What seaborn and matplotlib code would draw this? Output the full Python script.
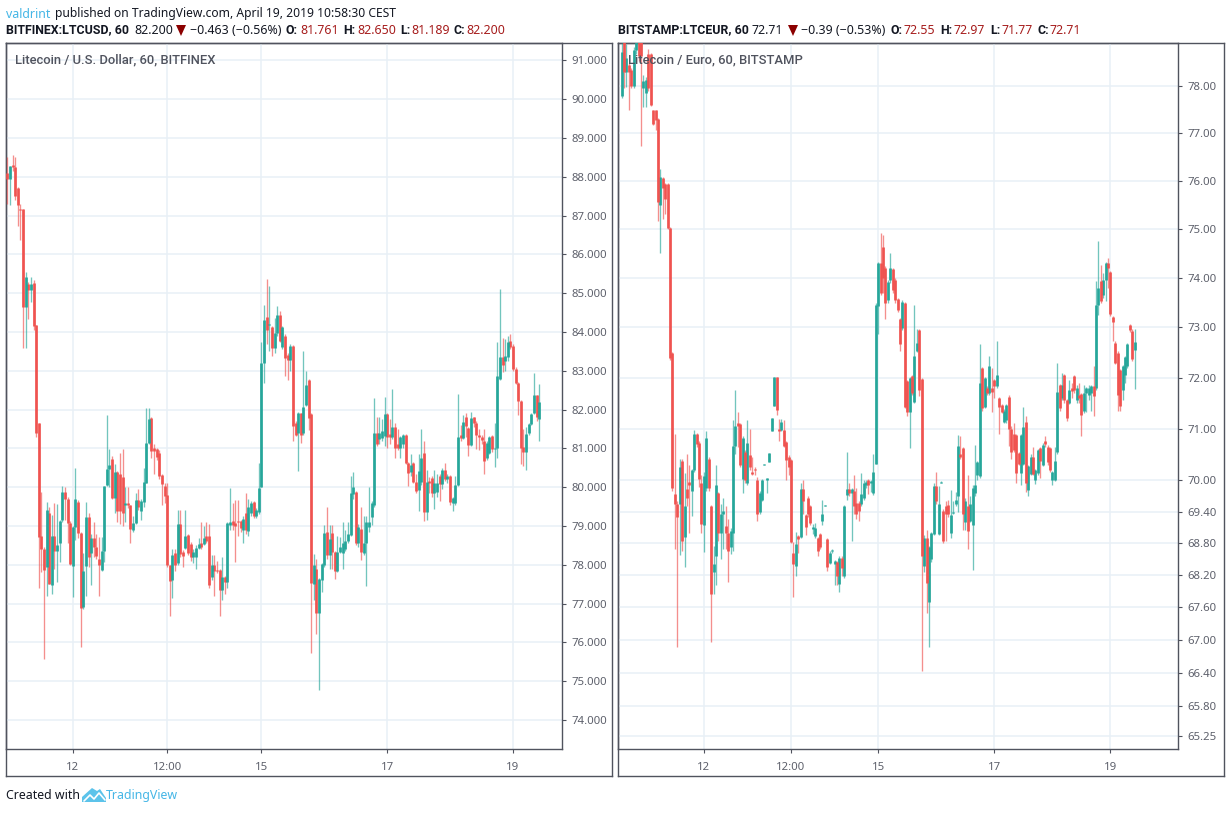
import numpy as np
import pandas as pd
import seaborn as sns
import matplotlib.pyplot as plt
from matplotlib.patches import Polygon
from matplotlib.ticker import NullLocator

# hourly candles
usd_open = [88.10,87.95,88.30,88.25,87.70,87.17,87.17,84.65,85.25,85.08,
85.26,84.18,81.65,78.74,78.40,77.95,79.33,77.48,78.74,78.36,
78.56,79.15,79.88,79.70,79.08,77.97,78.97,79.62,78.82,76.91,
77.97,79.23,78.30,78.69,78.46,78.14,77.87,78.36,80.06,80.47,
80.73,79.72,80.39,80.34,80.26,79.55,79.58,79.54,78.90,79.08,
79.67,79.38,79.62,80.10,81.14,81.78,81.00,80.98,80.88,80.31,
80.03,79.80,77.99,77.60,78.30,78.04,79.05,78.33,78.43,78.77,
78.54,78.20,78.20,78.43,78.56,78.54,78.74,78.74,77.69,77.99,
77.87,77.87,77.35,77.69,77.56,79.03,79.13,79.08,79.13,79.13,
78.90,79.33,78.87,79.33,79.62,79.26,79.36,80.00,83.20,84.39,
84.17,84.13,83.59,83.97,84.44,83.61,83.90,83.41,83.28,83.64,
81.65,81.39,81.90,81.39,82.12,82.76,81.88,77.50,77.89,76.76,
77.60,77.99,78.85,78.25,78.82,78.33,77.84,78.33,78.30,78.40,
78.60,78.77,79.82,79.88,78.56,78.92,78.30,78.56,78.98,79.23,
79.54,81.39,81.25,81.28,81.32,81.88,81.38,81.30,81.55,81.10,
81.00,81.10,81.35,80.62,80.40,80.62,80.13,79.93,80.13,80.88,
79.36,80.17,80.24,79.85,79.87,80.29,80.08,80.44,80.20,80.29,
79.60,79.60,80.06,81.35,81.27,81.80,81.53,81.09,81.80,81.65,
81.35,81.30,81.20,80.75,80.88,81.32,80.98,81.00,82.80,83.36,
83.25,83.35,83.77,83.64,83.05,82.69,82.22,81.03,80.90,81.39,
81.63,81.90,82.37,81.76]
usd_close = [87.95,88.28,88.25,87.50,87.28,87.15,84.65,85.42,85.08,85.25,
84.15,81.40,78.72,78.40,77.87,79.41,77.50,78.74,78.36,78.51,
79.13,79.88,79.70,79.08,78.02,78.97,79.70,78.82,76.88,77.84,
79.23,78.20,78.69,78.46,78.22,78.00,78.36,80.03,80.47,80.57,
79.72,80.39,79.38,79.38,79.33,79.60,79.54,78.92,79.08,79.67,
79.49,79.64,80.13,81.14,81.76,80.93,80.93,80.78,80.29,80.08,
79.77,77.99,77.58,78.25,78.00,79.05,78.28,78.22,78.74,78.30,
78.20,78.33,78.43,78.54,78.46,78.69,78.61,77.48,77.99,77.85,
77.84,77.35,77.69,77.56,79.08,79.10,79.03,79.00,79.10,78.95,
79.18,78.90,79.49,79.60,79.26,79.40,79.98,83.20,84.31,84.05,
84.20,83.59,83.97,84.44,83.77,84.13,83.33,83.28,83.64,81.58,
81.35,81.90,81.35,82.07,82.63,81.78,77.53,77.99,76.76,77.63,
78.02,78.82,78.25,78.66,78.33,77.84,78.33,78.46,78.56,78.62,
78.80,79.85,80.00,78.56,78.97,78.33,78.56,79.10,79.10,79.60,
81.39,81.11,81.40,81.45,81.88,81.30,81.30,81.55,81.00,81.00,
81.30,81.35,80.62,80.36,80.57,80.13,79.90,80.42,80.75,79.36,
80.13,80.10,79.85,80.10,80.10,80.08,80.44,80.21,80.28,79.62,
79.72,80.06,81.30,81.27,81.68,81.58,81.09,81.78,81.65,81.35,
81.30,81.22,80.67,81.14,81.30,80.98,81.02,82.87,83.36,83.15,
83.38,83.75,83.61,83.05,82.69,82.22,81.00,80.90,81.37,81.63,
81.88,82.37,81.80,82.20]
usd_high = [88.50,88.28,88.56,88.50,87.75,87.30,87.17,85.55,85.30,85.42,
85.34,84.18,81.65,79.88,78.45,79.63,79.50,79.28,79.58,79.57,
79.15,80.03,80.00,79.75,79.13,79.00,80.50,79.67,78.85,78.30,
79.62,79.33,78.80,79.10,78.80,78.72,78.72,80.03,81.86,80.98,
80.80,80.60,80.42,80.88,80.98,80.00,80.00,79.55,79.25,79.85,
79.95,79.70,80.50,82.04,82.04,81.80,81.10,81.00,80.95,80.33,
80.10,80.10,78.00,78.40,78.40,79.40,79.40,78.38,79.40,78.80,
78.58,78.40,78.50,78.70,79.10,79.00,79.10,79.05,78.25,78.25,
78.10,77.90,78.20,77.72,79.10,79.98,79.60,79.68,79.68,79.15,
79.25,79.85,79.70,79.65,79.65,79.45,80.62,83.74,84.70,85.37,
85.19,84.15,84.35,84.67,84.55,84.15,83.95,83.45,83.70,83.66,
81.70,81.95,81.92,83.50,83.00,82.80,81.90,78.28,78.15,77.65,
78.05,79.03,79.49,79.03,79.03,78.35,78.75,78.72,79.10,78.90,
79.10,80.30,80.40,79.90,79.05,79.49,79.25,79.25,80.00,79.65,
82.30,81.80,81.80,81.75,82.33,81.90,81.75,82.53,81.65,81.50,
81.32,81.38,81.38,80.65,80.85,80.65,80.35,80.85,81.50,81.20,
80.45,80.25,80.28,80.45,80.35,80.35,80.50,80.62,80.35,80.32,
79.75,80.30,82.40,81.60,81.85,81.90,81.55,81.95,81.82,81.70,
81.50,81.35,81.50,81.20,81.32,81.35,81.65,83.74,85.10,83.85,
83.82,83.90,83.95,83.70,83.10,82.72,82.25,81.50,81.55,81.65,
81.90,82.94,82.38,82.65]
usd_low = [87.30,87.28,88.15,87.40,86.73,86.37,83.60,83.60,84.33,84.77,
84.05,81.30,77.40,77.82,75.57,77.20,77.50,77.25,77.90,77.56,
78.07,79.10,79.15,78.56,78.00,77.17,78.65,78.70,75.88,76.85,
77.20,77.95,77.48,78.20,78.15,77.20,77.85,78.07,80.03,80.00,
79.70,79.33,79.10,79.05,79.00,79.10,79.45,78.56,78.85,79.05,
79.40,79.15,79.50,80.10,81.10,80.75,80.35,80.70,80.20,79.55,
79.60,77.95,76.68,77.14,77.85,78.00,78.20,77.95,78.40,78.25,
78.10,78.05,77.89,78.40,78.40,78.50,78.55,77.40,77.60,77.20,
77.80,76.68,77.09,77.25,77.40,78.90,78.90,78.07,78.75,78.85,
78.57,78.80,78.75,79.25,79.20,79.20,79.30,80.00,82.69,83.68,
83.50,83.38,83.45,83.90,83.75,83.55,82.87,82.76,83.00,81.19,
81.33,80.41,81.14,81.35,82.10,81.47,75.73,77.09,76.22,74.77,
77.30,77.95,78.15,77.90,77.90,77.62,77.82,78.30,77.90,78.35,
78.55,78.75,79.70,78.50,78.45,78.13,78.25,77.45,78.85,79.03,
79.50,81.05,81.10,81.20,81.05,81.00,81.10,81.25,80.75,80.95,
80.75,81.00,80.60,80.03,80.30,80.10,79.85,79.38,80.05,79.13,
79.15,79.85,79.75,79.44,79.75,79.65,79.95,80.15,80.10,79.55,
79.38,79.55,80.03,81.20,81.25,81.30,80.80,81.05,81.55,80.98,
80.95,81.10,80.35,80.70,80.85,80.90,80.52,80.75,82.75,82.98,
83.00,83.25,83.55,83.00,82.65,81.85,80.60,80.55,80.45,81.35,
81.60,81.88,81.70,81.19]

eur_open = [77.80,78.95,78.30,78.45,78.35,78.00,78.78,78.95,78.95,77.95,
77.85,78.70,78.70,77.50,77.50,77.30,75.50,76.05,75.93,75.93,
75.03,72.48,69.73,69.55,69.55,70.37,68.92,69.83,69.97,69.80,
70.20,70.89,70.71,69.95,69.15,69.85,70.40,69.50,68.25,68.55,
69.75,69.00,69.35,69.12,69.00,68.72,69.00,70.67,71.10,71.08,
70.03,70.55,69.95,70.49,70.16,70.22,70.00,69.39,69.63,70.29,
70.00,70.35,70.95,71.45,72.02,70.99,70.97,70.97,70.73,70.45,
70.39,68.62,68.38,68.93,68.92,69.84,69.33,69.65,69.50,69.07,
68.94,68.90,68.98,69.22,69.50,68.88,68.43,68.65,68.40,68.44,
68.03,68.53,68.18,69.71,69.83,69.76,69.80,69.56,69.56,69.55,
69.65,69.90,70.00,69.95,69.75,70.31,73.43,74.30,74.64,74.20,
73.56,73.96,74.18,73.96,73.58,73.16,72.99,73.49,71.93,71.33,
72.03,71.53,72.53,72.94,71.97,68.37,68.90,67.70,68.50,68.98,
69.88,68.98,69.95,69.42,69.50,69.52,68.99,69.38,69.55,69.70,
70.50,70.62,69.20,69.50,69.23,69.15,69.75,70.10,70.08,72.20,
71.43,71.80,71.70,71.79,71.96,71.83,71.60,71.46,71.13,71.16,
71.62,71.00,70.90,70.87,70.52,70.13,70.32,71.13,69.82,70.12,
70.45,70.00,70.13,70.62,70.30,70.76,70.65,70.62,70.00,70.00,
70.55,71.86,71.60,72.06,71.56,71.50,71.80,72.03,71.56,71.66,
71.67,71.35,71.70,71.65,71.70,71.83,71.80,73.46,73.94,73.66,
73.96,74.31,74.11,73.20,72.69,72.49,72.16,71.76,72.06,72.23,
73.04,72.93,72.55]
eur_close = [78.73,78.30,78.60,78.30,78.00,78.78,78.95,78.65,78.65,78.10,
78.13,77.95,77.60,77.20,77.27,75.55,76.08,75.85,75.62,75.02,
72.39,69.85,69.55,69.30,70.25,68.85,69.50,69.65,69.90,70.20,
70.89,70.70,70.03,69.17,70.08,70.82,69.85,67.85,68.40,69.90,
69.00,69.35,69.41,69.00,68.66,69.03,70.67,71.05,71.05,70.29,
70.82,70.00,70.71,70.25,70.12,70.19,69.35,69.75,70.01,70.32,
70.05,70.53,71.20,72.02,71.37,70.96,71.12,70.67,70.39,70.25,
68.82,68.40,68.78,68.88,69.84,69.60,69.11,69.36,69.18,69.11,
69.08,68.66,68.72,69.35,69.53,68.35,68.62,68.68,68.46,68.18,
68.53,68.34,69.50,69.84,69.76,69.84,69.50,69.35,69.41,69.73,
69.95,69.97,69.90,69.98,70.16,73.46,74.30,73.70,74.00,73.50,
73.91,74.20,73.76,73.56,73.36,72.66,73.51,71.43,71.33,72.00,
71.69,72.43,72.69,71.76,68.55,68.90,68.05,68.72,68.99,69.88,
69.60,69.55,69.97,68.84,69.36,69.36,69.33,69.40,69.62,70.67,
70.44,69.35,69.60,69.03,69.55,69.85,69.91,70.35,71.90,71.40,
71.99,71.70,72.23,71.72,71.83,72.06,71.43,71.33,71.35,71.46,
71.00,70.55,70.58,70.13,70.32,70.87,71.03,69.94,70.27,70.45,
70.12,70.20,70.58,70.37,70.68,70.70,70.35,70.20,70.15,70.38,
71.72,71.40,71.86,71.56,71.20,71.76,71.73,71.76,71.79,71.59,
71.26,71.70,71.79,71.80,71.83,71.63,73.46,73.80,73.53,73.96,
74.31,74.20,73.26,73.10,72.30,71.66,71.44,72.23,72.41,72.66,
72.95,72.36,72.71]
eur_high = [78.93,78.95,78.90,78.50,78.40,78.85,78.95,78.95,78.95,78.25,
78.20,78.80,78.72,77.50,77.50,77.32,76.25,76.08,75.95,75.95,
75.05,72.50,70.89,69.60,70.40,70.40,70.13,70.50,70.30,70.22,
70.97,70.92,70.75,70.10,70.15,70.95,70.45,69.52,68.75,70.30,
69.78,69.55,69.65,69.50,69.25,69.08,71.17,71.75,71.32,71.10,
70.85,70.58,71.17,71.00,70.45,70.25,70.06,69.80,70.03,70.32,
70.05,70.53,71.20,72.02,72.02,71.19,71.19,71.17,70.75,70.48,
70.41,68.82,69.02,68.95,69.95,70.00,69.35,69.70,69.52,69.17,
69.18,68.92,69.00,69.62,69.53,68.90,68.65,68.70,68.48,68.46,
68.55,68.55,69.52,70.55,69.95,69.86,70.10,69.85,69.60,70.14,
70.00,70.00,70.03,70.00,70.50,73.50,74.32,74.91,74.88,74.25,
73.96,74.50,74.20,74.00,73.60,73.18,73.55,73.52,71.95,72.02,
72.05,73.46,72.96,72.96,72.00,68.95,69.05,68.75,69.02,69.95,
70.15,69.88,69.98,69.45,69.60,69.62,69.82,69.60,69.78,70.88,
70.85,70.65,69.65,70.10,69.70,69.90,70.69,70.38,72.66,72.22,
72.02,71.83,72.43,72.20,71.98,72.73,71.62,71.48,71.38,71.48,
71.65,71.05,71.10,70.90,70.55,70.90,71.43,71.25,70.30,70.50,
70.65,70.22,70.60,70.65,70.72,70.85,70.68,70.65,70.18,70.65,
72.30,71.88,72.09,72.08,71.58,71.95,71.90,72.05,71.85,71.90,
71.70,71.85,71.82,71.85,71.85,72.23,73.93,74.76,74.26,74.10,
74.33,74.40,74.13,73.22,72.72,72.52,72.18,72.26,72.43,72.68,
73.06,72.96,72.97]
eur_low = [77.75,77.95,77.98,77.50,77.95,77.95,78.70,78.55,76.72,77.55,
77.56,77.90,77.58,77.18,77.07,75.17,74.50,75.20,75.30,75.00,
72.35,69.80,68.70,66.86,68.58,68.65,68.35,69.50,69.00,69.32,
70.15,70.65,69.87,69.00,68.64,69.80,69.80,66.96,67.85,68.02,
68.85,68.50,68.70,68.70,68.07,68.60,68.66,70.50,70.65,70.25,
69.75,69.95,69.90,70.20,70.10,70.10,69.22,69.35,69.60,70.29,
69.75,70.35,70.95,71.45,71.27,70.75,70.95,70.65,70.00,70.10,
68.80,67.80,68.18,68.62,68.90,69.35,68.95,69.30,69.15,68.98,
68.90,68.55,68.70,69.15,69.50,68.28,68.40,68.62,68.02,68.02,
67.88,68.18,68.15,69.62,69.70,68.85,69.35,69.25,69.22,69.50,
69.62,69.85,69.74,69.78,69.72,70.31,72.87,73.65,73.70,73.16,
73.50,73.90,73.70,73.50,73.30,72.53,72.95,71.40,71.25,70.63,
71.65,71.50,72.50,71.63,66.42,68.25,67.50,66.86,68.45,68.95,
69.55,68.95,69.94,68.80,68.85,69.30,68.90,69.35,69.50,69.40,
70.40,69.05,69.05,68.70,69.20,68.30,69.70,70.00,70.05,71.35,
71.40,71.65,71.65,71.33,71.60,71.80,70.90,71.30,71.10,71.10,
70.67,70.40,70.55,69.95,70.30,69.90,70.30,69.77,69.70,70.10,
70.10,69.92,70.10,70.05,70.28,70.65,70.30,70.15,69.90,69.98,
70.50,71.35,71.55,71.50,71.15,71.48,71.60,71.70,71.50,71.50,
70.86,71.30,71.33,71.55,71.35,71.25,71.75,73.25,73.50,73.60,
73.53,73.80,73.22,72.73,72.28,71.35,71.35,71.56,71.90,72.20,
72.90,72.33,71.77]

usd_ticks = [74, 75, 76, 77, 78, 79, 80, 81, 82, 83, 84, 85, 86, 87, 88, 89, 90, 91]
eur_ticks = [65.25, 65.80, 66.40, 67.00, 67.60, 68.20, 68.80, 69.40, 70, 71, 72, 73, 74, 75, 76, 77, 78]
time_labels = ['12', '12:00', '15', '17', '19']
usd_time_bars = [25, 61, 97, 145, 193]
eur_time_bars = [34, 70, 106, 154, 202]

W, H = 1230, 813
UP, DOWN = '#26a69a', '#ef5350'
FRAME = '#50535e'
GRID = '#e8f0f6'
BLUE = '#45b6e6'
RED = '#a61c1c'

sns.set_theme(style='white')
plt.rcParams['font.family'] = ['Noto Sans', 'DejaVu Sans']

fig = plt.figure(figsize=(W / 100, H / 100), dpi=100)


def box(x0, y0, x1, y1):
    return [x0 / W, 1 - y1 / H, (x1 - x0) / W, (y1 - y0) / H]


def label(x, y, s, **kw):
    kw.setdefault('fontsize', 8.9)
    kw.setdefault('color', '#131722')
    kw.setdefault('va', 'center')
    fig.text(x / W, 1 - y / H, s, **kw)


def bold(x, y, s, **kw):
    label(x, y, s, family=['Roboto', 'DejaVu Sans'], fontweight='bold', **kw)


def candles(ax, opens, closes, highs, lows):
    df = pd.DataFrame({'open': opens, 'close': closes, 'high': highs, 'low': lows})
    df['bar'] = df.index
    df['side'] = np.where(df['close'] >= df['open'], 'up', 'down')
    wicks = df.melt(id_vars=['bar', 'side'], value_vars=['low', 'high'], value_name='price')
    bodies = df.melt(id_vars=['bar', 'side'], value_vars=['open', 'close'], value_name='price')
    pal = {'up': UP, 'down': DOWN}
    sns.lineplot(data=wicks, x='bar', y='price', units='bar', hue='side', estimator=None,
                 palette=pal, linewidth=0.95, alpha=0.65, legend=False, ax=ax,
                 solid_capstyle='butt', zorder=3)
    sns.lineplot(data=bodies, x='bar', y='price', units='bar', hue='side', estimator=None,
                 palette=pal, linewidth=1.95, legend=False, ax=ax,
                 solid_capstyle='butt', zorder=4)


def panel(x0, x_axis, x1, opens, closes, highs, lows, xlim, ylim, yticks, fmt, time_bars, log=False):
    outer = fig.add_axes(box(x0, 43, x1, 776))
    outer.set_xticks([])
    outer.set_yticks([])
    for s in outer.spines.values():
        s.set_color(FRAME)
        s.set_linewidth(1)

    ax = fig.add_axes(box(x0, 43, x_axis, 749))
    ax.patch.set_alpha(0)
    if log:
        ax.set_yscale('log')
    candles(ax, opens, closes, highs, lows)
    ax.set_xlim(*xlim)
    ax.set_ylim(*ylim)
    ax.set_yticks(yticks)
    ax.set_yticklabels([fmt % t for t in yticks])
    ax.yaxis.set_minor_locator(NullLocator())
    ax.set_xticks(time_bars)
    ax.set_xticklabels(time_labels)
    ax.yaxis.tick_right()
    ax.set_xlabel('')
    ax.set_ylabel('')
    ax.grid(True, color=GRID, linewidth=1.1, zorder=0)
    ax.set_axisbelow(True)
    ax.tick_params(axis='y', length=3, width=0.8, color=FRAME, labelcolor='#5d606b', labelsize=8.2, pad=4, right=True)
    ax.tick_params(axis='x', length=3, width=0.8, color=FRAME, labelcolor='#5d606b', labelsize=8.2, pad=6, bottom=True)
    for s in ax.spines.values():
        s.set_color(FRAME)
        s.set_linewidth(1)
    return ax


panel(6, 562, 612, usd_open, usd_close, usd_high, usd_low, (-0.5, 211.7), (73.25, 91.45),
      usd_ticks, '%.3f', usd_time_bars)
panel(618, 1178, 1224, eur_open, eur_close, eur_high, eur_low, (-1.5, 229.9), (65.02, 78.93),
      eur_ticks, '%.2f', eur_time_bars, log=True)

# top lines
label(6, 14, 'valdrint', color=BLUE)
label(55, 14, 'published on TradingView.com, April 19, 2019 10:58:30 CEST', fontsize=8.7)


def header(symbol, x_last, last, x_tri, x_change, change, items):
    bold(symbol[0], 30, symbol[1])
    label(x_last, 30, last)
    label(x_change, 30, change)
    tri = Polygon([[(x_tri - 5) / W, 1 - 25 / H], [(x_tri + 5) / W, 1 - 25 / H], [x_tri / W, 1 - 36 / H]],
                  closed=True, transform=fig.transFigure, facecolor='#8b0000', edgecolor='none')
    fig.add_artist(tri)
    for x_key, key, x_val, val in items:
        bold(x_key, 30, key)
        label(x_val, 30, val, color=RED)


header((6, 'BITFINEX:LTCUSD, 60'), 134, '82.200', 181, 190, '\u22120.463 (\u22120.56%)',
       [(286, 'O:', 300, '81.761'), (343, 'H:', 357, '82.650'),
        (400, 'L:', 411, '81.189'), (454, 'C:', 466, '82.200')])
header((618, 'BITSTAMP:LTCEUR, 60'), 752, '72.71', 793, 801, '\u22120.39 (\u22120.53%)',
       [(890, 'O:', 904, '72.55'), (940, 'H:', 954, '72.97'),
        (990, 'L:', 1001, '71.77'), (1037, 'C:', 1049, '72.71')])

label(15, 60, 'Litecoin / U.S. Dollar, 60, BITFINEX', color=FRAME, fontsize=9.4,
      family=['Roboto', 'DejaVu Sans'], fontweight='medium', zorder=10)
label(628, 60, 'Litecoin / Euro, 60, BITSTAMP', color=FRAME, fontsize=9.4,
      family=['Roboto', 'DejaVu Sans'], fontweight='medium', zorder=10)

# footer with the little logo
label(6, 795, 'Created with')
logo = Polygon([[(x) / W, 1 - y / H] for x, y in
                [(82, 802), (82, 797), (92, 788), (97, 791), (100, 789), (106, 798), (106, 802)]],
               closed=True, transform=fig.transFigure, facecolor='#5cc3ea', edgecolor='none')
fig.add_artist(logo)
zig = plt.Line2D([84 / W, 90 / W, 94 / W, 99 / W, 105 / W],
                 [1 - 801 / H, 1 - 795 / H, 1 - 799 / H, 1 - 793 / H, 1 - 800 / H],
                 transform=fig.transFigure, color='white', linewidth=1.2)
fig.add_artist(zig)
label(106, 795, 'TradingView', color=BLUE)

fig.savefig('out.png', dpi=100)
